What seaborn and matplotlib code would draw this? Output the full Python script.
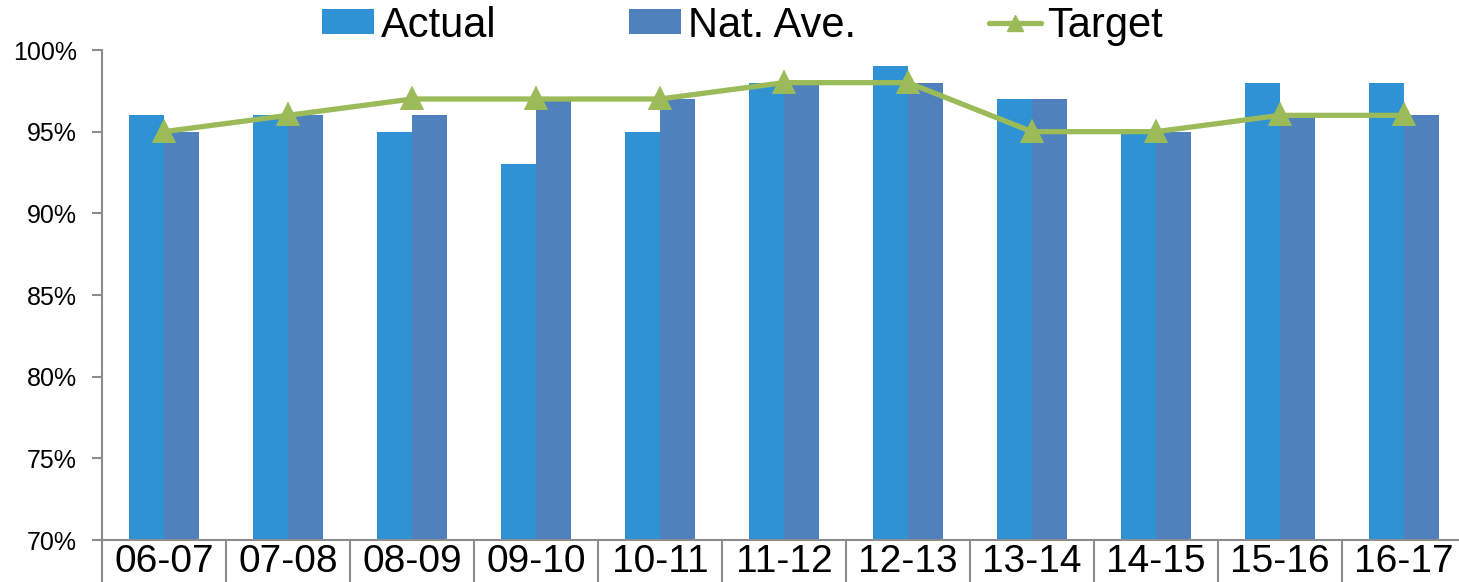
import pandas as pd
import matplotlib.pyplot as plt
import seaborn as sns
from matplotlib.patches import Patch
from matplotlib.lines import Line2D
from matplotlib.ticker import PercentFormatter, FixedLocator

# values (percent)
years = ['06-07', '07-08', '08-09', '09-10', '10-11', '11-12',
         '12-13', '13-14', '14-15', '15-16', '16-17']
actual = [96, 96, 95, 93, 95, 98, 99, 97, 95, 98, 98]
nat_ave = [95, 96, 96, 97, 97, 98, 98, 97, 95, 96, 96]
target = [95, 96, 97, 97, 97, 98, 98, 95, 95, 96, 96]

c_actual = '#2F92D5'
c_nat = '#4F81BD'
c_target = '#9BBB59'
grey = '#8C8C8C'

df = pd.DataFrame({'Year': years, 'Actual': actual, 'Nat. Ave.': nat_ave})
long_df = df.melt(id_vars='Year', var_name='Series', value_name='Value')
df_target = pd.DataFrame({'Year': years, 'Target': target})

sns.set_style('white')
plt.rcParams['font.family'] = ['Liberation Sans', 'DejaVu Sans']
plt.rcParams['text.color'] = 'black'
plt.rcParams['xtick.labelcolor'] = 'black'
plt.rcParams['ytick.labelcolor'] = 'black'

fig = plt.figure(figsize=(14.59, 5.82), dpi=100)
ax = fig.add_axes([102 / 1459, 1 - 540 / 582, 1364 / 1459, 490 / 582])

sns.barplot(data=long_df, x='Year', y='Value', hue='Series',
            palette=[c_actual, c_nat], saturation=1, width=0.57, gap=0,
            edgecolor='none', linewidth=0, legend=False, ax=ax)
sns.pointplot(data=df_target, x='Year', y='Target', color=c_target,
              markers='^', markersize=13, linewidth=3.8, errorbar=None, ax=ax)

ax.set_ylim(70, 100)
ax.set_xlim(-0.5, len(years) - 0.5)
ax.set_yticks(range(70, 101, 5))
ax.yaxis.set_major_formatter(PercentFormatter(decimals=0))
ax.set_xlabel('')
ax.set_ylabel('')

for s in ['top', 'right']:
    ax.spines[s].set_visible(False)
for s in ['left', 'bottom']:
    ax.spines[s].set_color(grey)
    ax.spines[s].set_linewidth(1.5)

ax.tick_params(axis='y', which='major', direction='out', length=7, width=1.5,
               color=grey, labelsize=18, pad=11, left=True)
ax.tick_params(axis='x', which='major', length=0, labelsize=28, pad=3)
# category separators below the axis
ax.xaxis.set_minor_locator(FixedLocator([i - 0.5 for i in range(len(years) + 1)]))
ax.tick_params(axis='x', which='minor', direction='out', length=32, width=1.5,
               color=grey, bottom=True)

handles = [Patch(facecolor=c_actual, edgecolor='none'),
           Patch(facecolor=c_nat, edgecolor='none'),
           Line2D([0], [0], color=c_target, lw=3.8, marker='^', markersize=12)]
fig.legend(handles, ['Actual', 'Nat. Ave.', 'Target'], loc='center',
           bbox_to_anchor=(0.509, 0.956), ncol=3, frameon=False, fontsize=30,
           handlelength=1.25, handleheight=0.55, handletextpad=0.15,
           columnspacing=3.2, borderpad=0)

fig.savefig('out.png', dpi=100)
